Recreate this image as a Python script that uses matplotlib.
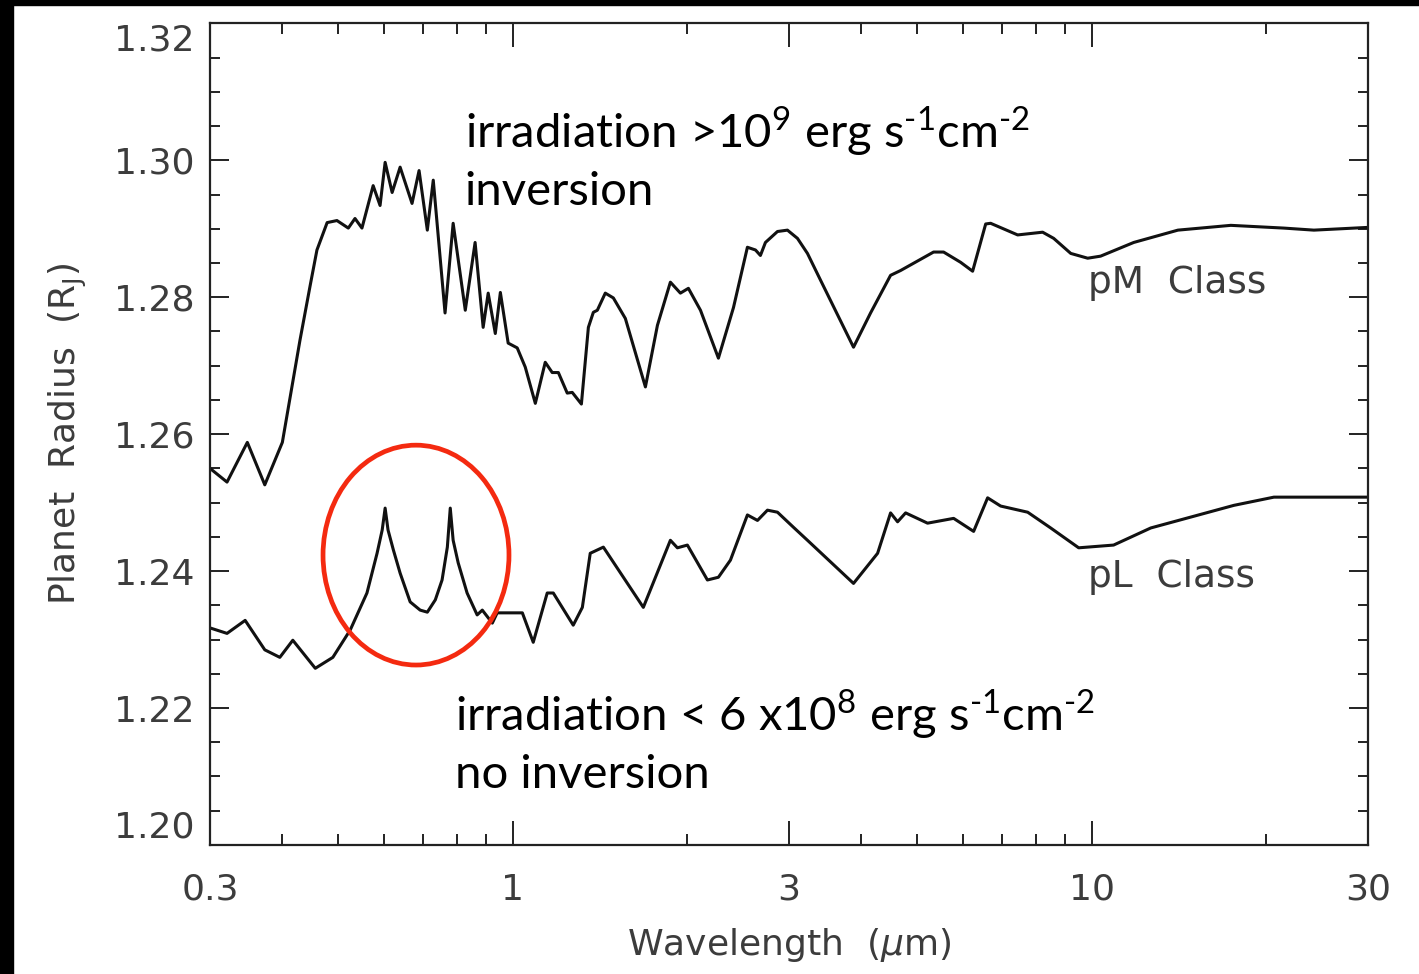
import matplotlib
matplotlib.use("Agg")
import matplotlib.pyplot as plt
from matplotlib.patches import Ellipse, Rectangle
from matplotlib.ticker import FixedLocator, NullFormatter, MultipleLocator

# Transit radius spectra for the two irradiation classes
wl_pm = [0.300, 0.321, 0.348, 0.373, 0.400, 0.429, 0.447, 0.459, 0.478, 0.497,
         0.520, 0.534, 0.549, 0.574, 0.590, 0.602, 0.619, 0.639, 0.670, 0.689,
         0.712, 0.729, 0.764, 0.789, 0.828, 0.861, 0.889, 0.907, 0.933, 0.952,
         0.982, 1.018, 1.051, 1.094, 1.138, 1.170, 1.199, 1.242, 1.267, 1.314,
         1.351, 1.378, 1.400, 1.445, 1.492, 1.565, 1.695, 1.778, 1.872, 1.948,
         2.011, 2.110, 2.266, 2.406, 2.543, 2.626, 2.678, 2.732, 2.866, 2.982,
         3.103, 3.229, 3.401, 3.878, 4.150, 4.494, 4.676, 5.332, 5.549, 5.938,
         6.228, 6.560, 6.690, 7.450, 8.228, 8.597, 9.201, 9.842, 10.36, 11.82,
         14.09, 17.39, 21.47, 24.20, 30.00]
r_pm = [1.2550, 1.2530, 1.2588, 1.2526, 1.2588, 1.2737, 1.2818, 1.2869, 1.2909, 1.2912,
        1.2901, 1.2915, 1.2901, 1.2963, 1.2934, 1.2997, 1.2953, 1.2990, 1.2937, 1.2985,
        1.2898, 1.2971, 1.2777, 1.2908, 1.2781, 1.2880, 1.2756, 1.2806, 1.2747, 1.2807,
        1.2733, 1.2726, 1.2698, 1.2645, 1.2705, 1.2690, 1.2690, 1.2660, 1.2661, 1.2644,
        1.2756, 1.2778, 1.2781, 1.2806, 1.2799, 1.2769, 1.2669, 1.2759, 1.2822, 1.2806,
        1.2813, 1.2781, 1.2711, 1.2785, 1.2873, 1.2869, 1.2861, 1.2880, 1.2896, 1.2898,
        1.2886, 1.2864, 1.2825, 1.2727, 1.2777, 1.2832, 1.2839, 1.2866, 1.2866, 1.2851,
        1.2838, 1.2907, 1.2908, 1.2891, 1.2895, 1.2886, 1.2864, 1.2857, 1.2860, 1.2880,
        1.2898, 1.2905, 1.2901, 1.2898, 1.2902]

wl_pl = [0.300, 0.321, 0.345, 0.373, 0.396, 0.417, 0.456, 0.489, 0.524, 0.560,
         0.583, 0.595, 0.602, 0.609, 0.622, 0.639, 0.665, 0.692, 0.712, 0.735,
         0.755, 0.771, 0.780, 0.789, 0.805, 0.834, 0.868, 0.886, 0.922, 0.940,
         1.039, 1.085, 1.147, 1.175, 1.272, 1.319, 1.361, 1.434, 1.681, 1.872,
         1.925, 2.003, 2.169, 2.266, 2.377, 2.543, 2.647, 2.754, 2.866, 3.054,
         3.229, 3.878, 4.268, 4.494, 4.621, 4.771, 5.206, 5.775, 6.253, 6.611,
         6.962, 7.753, 8.495, 9.496, 10.91, 12.65, 17.60, 20.64, 30.00]
r_pl = [1.2317, 1.2309, 1.2328, 1.2285, 1.2274, 1.2299, 1.2258, 1.2274, 1.2314, 1.2368,
        1.2426, 1.2460, 1.2492, 1.2460, 1.2431, 1.2397, 1.2355, 1.2343, 1.2340, 1.2358,
        1.2387, 1.2435, 1.2492, 1.2445, 1.2412, 1.2368, 1.2336, 1.2343, 1.2324, 1.2339,
        1.2339, 1.2296, 1.2368, 1.2368, 1.2321, 1.2347, 1.2426, 1.2435, 1.2347, 1.2445,
        1.2434, 1.2438, 1.2387, 1.2391, 1.2416, 1.2482, 1.2474, 1.2489, 1.2486, 1.2464,
        1.2445, 1.2382, 1.2426, 1.2485, 1.2472, 1.2485, 1.2470, 1.2477, 1.2458, 1.2507,
        1.2495, 1.2486, 1.2463, 1.2434, 1.2438, 1.2463, 1.2496, 1.2508, 1.2508]

x_major = [0.3, 1, 3, 10, 30]
x_major_labels = ["0.3", "1", "3", "10", "30"]
x_minor = [0.4, 0.5, 0.6, 0.7, 0.8, 0.9, 2, 4, 5, 6, 7, 8, 9, 20]
y_major = [1.20, 1.22, 1.24, 1.26, 1.28, 1.30, 1.32]

plt.rcParams["font.family"] = ["DejaVu Sans"]
plt.rcParams["mathtext.fontset"] = "dejavusans"

fig = plt.figure(figsize=(14.19, 9.74), dpi=100)
ax = fig.add_axes([0.148, 0.1325, 0.816, 0.8435])

line_kw = dict(color="#111111", lw=2.2, solid_joinstyle="round")
ax.plot(wl_pm, r_pm, **line_kw)
ax.plot(wl_pl, r_pl, **line_kw)

ax.set_xscale("log")
ax.set_xlim(0.3, 30)
ax.set_ylim(1.20, 1.32)

ax.xaxis.set_major_locator(FixedLocator(x_major))
ax.set_xticklabels(x_major_labels)
ax.xaxis.set_minor_locator(FixedLocator(x_minor))
ax.xaxis.set_minor_formatter(NullFormatter())
ax.yaxis.set_major_locator(FixedLocator(y_major))
ax.set_yticklabels([f"{v:.2f}" for v in y_major])
ax.yaxis.set_minor_locator(MultipleLocator(0.005))

tick_color = "#3c3c3c"
ax.tick_params(axis="both", which="both", direction="in", top=True, right=True,
               colors="#222222", labelcolor=tick_color, labelsize=26, width=1.4)
ax.tick_params(axis="x", which="major", length=17, pad=20)
ax.tick_params(axis="x", which="minor", length=8)
ax.tick_params(axis="y", which="major", length=14, pad=11)
ax.tick_params(axis="y", which="minor", length=7)
for sp in ax.spines.values():
    sp.set_linewidth(1.6)
    sp.set_color("#222222")

# End labels of the radius axis sit just inside the frame
ylabels = ax.get_yticklabels()
ylabels[0].set_va("bottom")
ylabels[-1].set_va("top")

ax.set_xlabel(r"Wavelength  ($\mu$m)", fontsize=26, color=tick_color, labelpad=14)
ax.set_ylabel(r"Planet  Radius  (R$_\mathregular{J}$)", fontsize=26, color=tick_color,
              labelpad=18)

# Class labels
ax.text(0.758, 0.684, "pM  Class", transform=ax.transAxes, fontsize=27,
        color=tick_color, va="center", ha="left")
ax.text(0.758, 0.326, "pL  Class", transform=ax.transAxes, fontsize=27,
        color=tick_color, va="center", ha="left")

# Irradiation annotations
ann_font = ["Lato", "DejaVu Sans"]
plt.rcParams["mathtext.fontset"] = "custom"
plt.rcParams["mathtext.rm"] = "Lato"
ax.text(0.220, 0.848,
        r"irradiation >10$^\mathregular{9}$ erg s$^\text{-1}$cm$^\text{-2}$",
        transform=ax.transAxes, fontsize=34, family=ann_font, color="black",
        va="baseline", ha="left")
ax.text(0.220, 0.779, "inversion", transform=ax.transAxes, fontsize=34,
        family=ann_font, color="black", va="baseline", ha="left")
ax.text(0.2116, 0.139,
        r"irradiation < 6 x10$^\mathregular{8}$ erg s$^\text{-1}$cm$^\text{-2}$",
        transform=ax.transAxes, fontsize=34, family=ann_font, color="black",
        va="baseline", ha="left")
ax.text(0.2116, 0.069, "no inversion", transform=ax.transAxes, fontsize=34,
        family=ann_font, color="black", va="baseline", ha="left")

# Highlight around the twin peaks
ax.add_patch(Ellipse((0.1779, 0.3528), 0.1606, 0.2676, transform=ax.transAxes,
                     fill=False, edgecolor="#f42a10", lw=3.4, zorder=5))

# Dark frame strips on the left and top edges
fig.patches.append(Rectangle((0, 0), 0.0092, 1, transform=fig.transFigure,
                             color="black", zorder=10))
fig.patches.append(Rectangle((0, 0.9949), 1, 0.0051, transform=fig.transFigure,
                             color="black", zorder=10))

fig.savefig("out.png", dpi=100)
